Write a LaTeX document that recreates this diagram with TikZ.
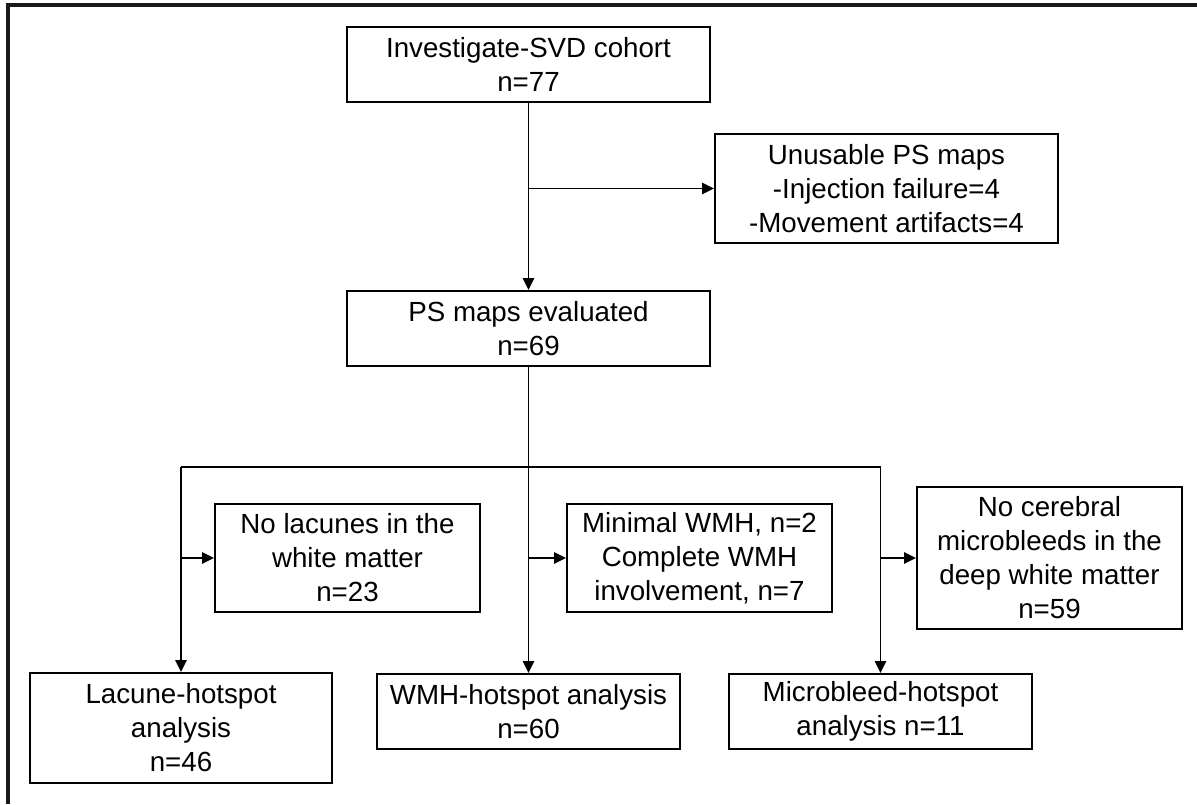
\documentclass[tikz,border=0pt]{standalone}
\usepackage{fontspec}
\setmainfont{Liberation Sans}
\usetikzlibrary{arrows.meta}
\begin{document}
\begin{tikzpicture}[x=0.025cm,y=-0.025cm,
  box/.style={draw=black,line width=1.4pt,align=center,inner sep=0pt,
    font=\fontsize{19.7}{24.2}\selectfont,text=black},
  conn/.style={draw=black,line width=1.4pt},
  arr/.style={conn,-{Triangle[length=8.5pt,width=8pt]}},
  frame/.style={draw=black!90,line width=2.4pt}]
\useasboundingbox (0,0) rectangle (1197,804);
\draw[frame] (8,804) -- (8,5) -- (1197,5);

\node[box,minimum width=9.075cm,minimum height=1.875cm] (A) at (528.5,64.5) {Investigate-SVD cohort\\n=77};
\node[box,minimum width=8.575cm,minimum height=2.725cm] (B) at (886.5,188.5) {Unusable PS maps\\-Injection failure=4\\-Movement artifacts=4};
\node[box,minimum width=9.075cm,minimum height=1.875cm] (C) at (528.5,328.5) {PS maps evaluated\\n=69};
\node[box,minimum width=6.625cm,minimum height=2.7cm] (D) at (347.5,558) {No lacunes in the\\white matter\\n=23};
\node[box,minimum width=6.625cm,minimum height=2.7cm] (E) at (699.5,558) {Minimal WMH, n=2\\Complete WMH\\involvement, n=7};
\node[box,minimum width=6.625cm,minimum height=3.55cm] (F) at (1049.5,558) {No cerebral\\microbleeds in the\\deep white matter\\n=59};
\node[box,minimum width=7.55cm,minimum height=2.75cm] (G) at (181,728) {Lacune-hotspot\\analysis\\n=46};
\node[box,minimum width=7.575cm,minimum height=1.875cm] (H) at (528.5,711.5) {WMH-hotspot analysis\\n=60};
\node[box,minimum width=7.575cm,minimum height=1.875cm] (I) at (880.5,711.5) {Microbleed-hotspot\\analysis n=11};

\draw[arr] (A.south) -- (C.north);
\coordinate (j1) at (A.south |- B.west);
\draw[arr] (j1) -- (B.west);

\coordinate (bj) at (528.5,467);
\coordinate (bl) at (G.north |- bj);
\coordinate (br) at (I.north |- bj);
\draw[conn] (C.south) -- (bj);
\draw[conn] (bl) -- (br);
\draw[arr] (bj) -- (H.north);
\draw[arr] (bl) -- (G.north);
\draw[arr] (br) -- (I.north);
\draw[arr] (G.north |- D.west) -- (D.west);
\draw[arr] (H.north |- E.west) -- (E.west);
\draw[arr] (I.north |- F.west) -- (F.west);
\end{tikzpicture}
\end{document}
